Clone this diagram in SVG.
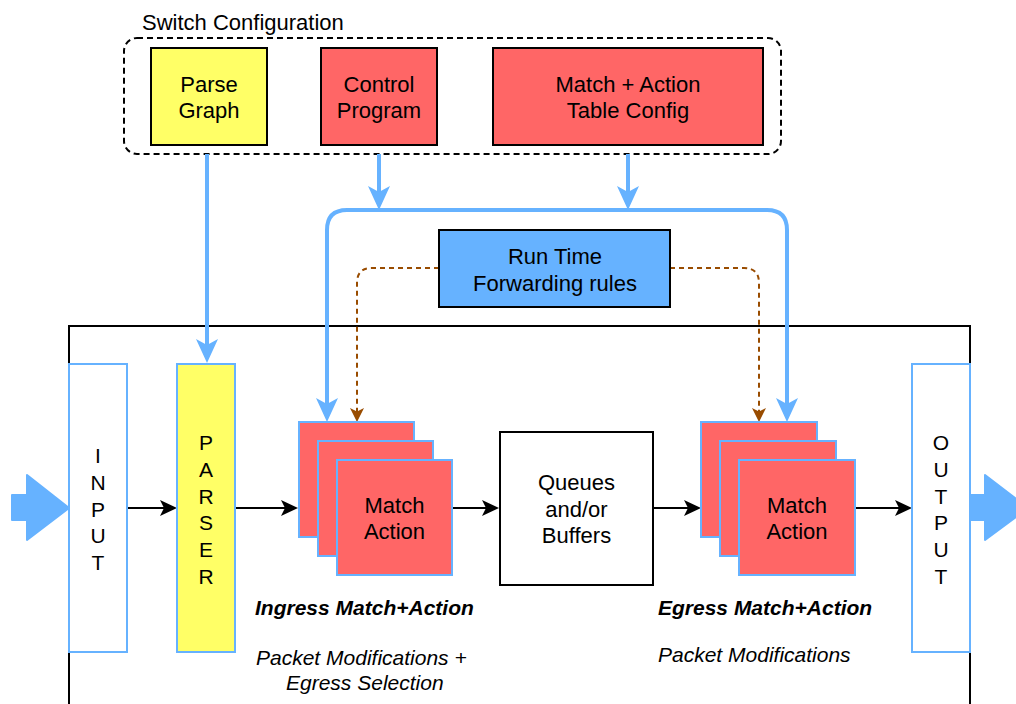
<svg xmlns="http://www.w3.org/2000/svg" width="1016" height="704" viewBox="0 0 1016 704">
  <style>
    text { font-family: "Liberation Sans", Arial, Helvetica, sans-serif; fill: #000; }
    .lbl { font-size: 22px; text-anchor: middle; }
    .vert { font-size: 21px; text-anchor: middle; }
    .cap { font-size: 21px; font-style: italic; }
    .capb { font-size: 21px; font-style: italic; font-weight: bold; }
    .cfg { stroke: #000; stroke-width: 2; }
    .stage { stroke: #66B2FF; stroke-width: 2; }
    .yellow { fill: #FFFF66; }
    .red { fill: #FF6666; }
    .blue { fill: #66B2FF; }
    .white { fill: #FFFFFF; }
    .bus { fill: none; stroke: #66B2FF; stroke-width: 4; }
    .rule { fill: none; stroke: #994C00; stroke-width: 2; stroke-dasharray: 5 4; }
    .flow { fill: none; stroke: #000; stroke-width: 2; }
    .bigarrow { fill: #66B2FF; stroke: #66B2FF; stroke-width: 2; stroke-linejoin: round; }
  </style>
  <defs>
    <marker id="arrowBlue" markerUnits="userSpaceOnUse" viewBox="0 0 24 22" markerWidth="24" markerHeight="22" refX="10" refY="11" orient="auto">
      <path d="M0,0 L24,11 L0,22 L6,11 Z" fill="#66B2FF"/>
    </marker>
    <marker id="arrowBlack" markerUnits="userSpaceOnUse" viewBox="0 0 17 16" markerWidth="17" markerHeight="16" refX="8" refY="8" orient="auto">
      <path d="M0,0 L17,8 L0,16 L4,8 Z" fill="#000"/>
    </marker>
    <marker id="arrowBrown" markerUnits="userSpaceOnUse" viewBox="0 0 14 14" markerWidth="14" markerHeight="14" refX="6" refY="7" orient="auto">
      <path d="M0,0 L14,7 L0,14 L3.5,7 Z" fill="#994C00"/>
    </marker>
  </defs>

  <!-- switch frame -->
  <path d="M69,706 V326 H970 V706" fill="none" stroke="#000" stroke-width="2"/>

  <!-- configuration group -->
  <g id="switch-configuration">
    <rect x="124" y="38" width="657" height="116" rx="13" fill="none" stroke="#000" stroke-width="2" stroke-dasharray="6 4"/>
    <text x="142" y="30" style="font-size:22px">Switch Configuration</text>
  </g>
  <g id="parse-graph">
    <rect x="151" y="48" width="116" height="97" class="cfg yellow"/>
    <text class="lbl" x="209" y="92">Parse</text>
    <text class="lbl" x="209" y="118">Graph</text>
  </g>
  <g id="control-program">
    <rect x="321" y="48" width="116" height="97" class="cfg red"/>
    <text class="lbl" x="379" y="92">Control</text>
    <text class="lbl" x="379" y="118">Program</text>
  </g>
  <g id="table-config">
    <rect x="493" y="48" width="270" height="97" class="cfg red"/>
    <text class="lbl" x="628" y="92">Match + Action</text>
    <text class="lbl" x="628" y="118">Table Config</text>
  </g>

  <!-- connectors -->
  <g id="connectors">
    <path class="bus" d="M207,154 V349" marker-end="url(#arrowBlue)"/>
    <path class="bus" d="M379,154 V196" marker-end="url(#arrowBlue)"/>
    <path class="bus" d="M628,154 V196" marker-end="url(#arrowBlue)"/>
    <path class="bus" d="M347,210 H767"/>
    <path class="bus" d="M347,210 Q327,210 327,230 V408" marker-end="url(#arrowBlue)"/>
    <path class="bus" d="M767,210 Q787,210 787,230 V408" marker-end="url(#arrowBlue)"/>
    <path class="rule" d="M439,268 H372 Q357,268 357,283 V414" marker-end="url(#arrowBrown)"/>
    <path class="rule" d="M670,268 H744 Q759,268 759,283 V414" marker-end="url(#arrowBrown)"/>
    <path class="flow" d="M127,508 H168" marker-end="url(#arrowBlack)"/>
    <path class="flow" d="M235,508 H289" marker-end="url(#arrowBlack)"/>
    <path class="flow" d="M453,508 H490" marker-end="url(#arrowBlack)"/>
    <path class="flow" d="M653,508 H692" marker-end="url(#arrowBlack)"/>
    <path class="flow" d="M855,508 H903" marker-end="url(#arrowBlack)"/>
  </g>

  <g id="run-time-rules">
    <rect x="439" y="230" width="231" height="77" class="cfg blue"/>
    <text class="lbl" x="555" y="264">Run Time</text>
    <text class="lbl" x="555" y="291">Forwarding rules</text>
  </g>

  <!-- packet in / out -->
  <g id="packet-in">
    <path class="bigarrow" d="M12,495 H27 V475 L69,508 L27,540 V520 H12 Z"/>
  </g>
  <g id="packet-out">
    <path class="bigarrow" d="M970,495 H985 V475 L1028,508 L985,540 V520 H970 Z"/>
  </g>

  <g id="input">
    <rect x="69" y="364" width="58" height="288" class="stage white"/>
    <text class="vert" x="98" y="463">I</text>
    <text class="vert" x="98" y="490">N</text>
    <text class="vert" x="98" y="516.5">P</text>
    <text class="vert" x="98" y="543">U</text>
    <text class="vert" x="98" y="570">T</text>
  </g>

  <g id="parser">
    <rect x="177" y="364" width="58" height="288" class="stage yellow"/>
    <text class="vert" x="206" y="450">P</text>
    <text class="vert" x="206" y="477">A</text>
    <text class="vert" x="206" y="503.5">R</text>
    <text class="vert" x="206" y="530">S</text>
    <text class="vert" x="206" y="557">E</text>
    <text class="vert" x="206" y="584">R</text>
  </g>

  <g id="ingress-match-action">
    <rect x="299" y="422" width="115" height="115" class="stage red"/>
    <rect x="318" y="441" width="115" height="115" class="stage red"/>
    <rect x="337" y="460" width="115" height="115" class="stage red"/>
    <text class="lbl" x="394.5" y="513">Match</text>
    <text class="lbl" x="394.5" y="539">Action</text>
    <text class="capb" x="255" y="615">Ingress Match+Action</text>
    <text class="cap" x="256" y="665">Packet Modifications +</text>
    <text class="cap" x="286" y="690">Egress Selection</text>
  </g>

  <g id="queues">
    <rect x="500" y="432" width="153" height="153" class="cfg white"/>
    <text class="lbl" x="576.5" y="490">Queues</text>
    <text class="lbl" x="576.5" y="517">and/or</text>
    <text class="lbl" x="576.5" y="543">Buffers</text>
  </g>

  <g id="egress-match-action">
    <rect x="701" y="422" width="116" height="115" class="stage red"/>
    <rect x="720" y="441" width="116" height="115" class="stage red"/>
    <rect x="739" y="460" width="116" height="115" class="stage red"/>
    <text class="lbl" x="797" y="513">Match</text>
    <text class="lbl" x="797" y="539">Action</text>
    <text class="capb" x="658" y="615">Egress Match+Action</text>
    <text class="cap" x="658" y="662">Packet Modifications</text>
  </g>

  <g id="output">
    <rect x="912" y="364" width="58" height="288" class="stage white"/>
    <text class="vert" x="941" y="450">O</text>
    <text class="vert" x="941" y="477">U</text>
    <text class="vert" x="941" y="503.5">T</text>
    <text class="vert" x="941" y="530">P</text>
    <text class="vert" x="941" y="557">U</text>
    <text class="vert" x="941" y="584">T</text>
  </g>
</svg>
